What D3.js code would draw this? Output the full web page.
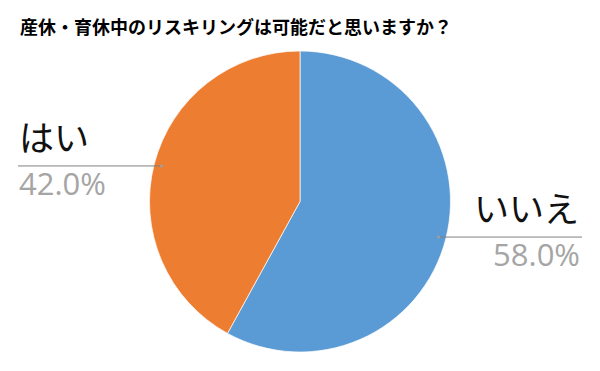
<!DOCTYPE html>
<html>
<head>
<meta charset="utf-8">
<script src="https://cdn.jsdelivr.net/npm/d3@7"></script>
<style>
  body { margin: 0; background: #fff; }
  svg { display: block; }
</style>
</head>
<body>
<svg id="chart"></svg>
<script>
// data
var title = "産休・育休中のリスキリングは可能だと思いますか？";
var categories = ["いいえ", "はい"];
var values = [58.0, 42.0];
var colors = ["#5B9BD5", "#ED7D31"];

var svgWidth = 600, svgHeight = 371;
var cx = 300, cy = 201.5, radius = 150.5;

var svg = d3.select("#chart")
  .attr("width", svgWidth)
  .attr("height", svgHeight);

svg.append("text")
  .attr("x", 20)
  .attr("y", 34)
  .attr("font-family", "'Noto Sans CJK JP', sans-serif")
  .attr("font-weight", "bold")
  .attr("font-size", 18)
  .attr("fill", "#000")
  .text(title);

var data = categories.map(function (c, i) {
  return { name: c, value: values[i], color: colors[i] };
});

var pie = d3.pie()
  .sort(null)
  .value(function (d) { return d.value; });

var arc = d3.arc().innerRadius(0).outerRadius(radius);
var dotArc = d3.arc().innerRadius(radius * 0.95).outerRadius(radius * 0.95);

var g = svg.append("g")
  .attr("transform", "translate(" + cx + "," + cy + ")");

var arcs = pie(data);

g.selectAll("path")
  .data(arcs)
  .enter().append("path")
  .attr("d", arc)
  .attr("fill", function (d) { return d.data.color; })
  .attr("stroke", "#fff")
  .attr("stroke-width", 0.7);

// labels with leader lines
var labels = g.selectAll("g.lbl")
  .data(arcs)
  .enter().append("g")
  .attr("class", "lbl");

labels.each(function (d) {
  var p = dotArc.centroid(d);
  var right = p[0] > 0;
  var edgeX = right ? (582 - cx) : (18 - cx);
  var sel = d3.select(this);

  sel.append("line")
    .attr("x1", p[0]).attr("y1", p[1])
    .attr("x2", edgeX).attr("y2", p[1])
    .attr("stroke", "#808080")
    .attr("stroke-width", 1);

  sel.append("circle")
    .attr("cx", p[0]).attr("cy", p[1])
    .attr("r", 1.5)
    .attr("fill", "#a0a0a0");

  sel.append("text")
    .attr("x", right ? edgeX - 3 : edgeX + 1)
    .attr("y", p[1] - 15)
    .attr("text-anchor", right ? "end" : "start")
    .attr("font-family", "'Noto Sans CJK JP', sans-serif")
    .attr("font-size", 35)
    .attr("fill", "#111")
    .text(d.data.name);

  sel.append("text")
    .attr("x", right ? edgeX - 2 : edgeX + 1)
    .attr("y", p[1] + 29)
    .attr("text-anchor", right ? "end" : "start")
    .attr("font-family", "'Open Sans', sans-serif")
    .attr("font-size", 31)
    .attr("fill", "#a5a5a5")
    .text(d3.format(".1f")(d.data.value) + "%");
});
</script>
</body>
</html>
